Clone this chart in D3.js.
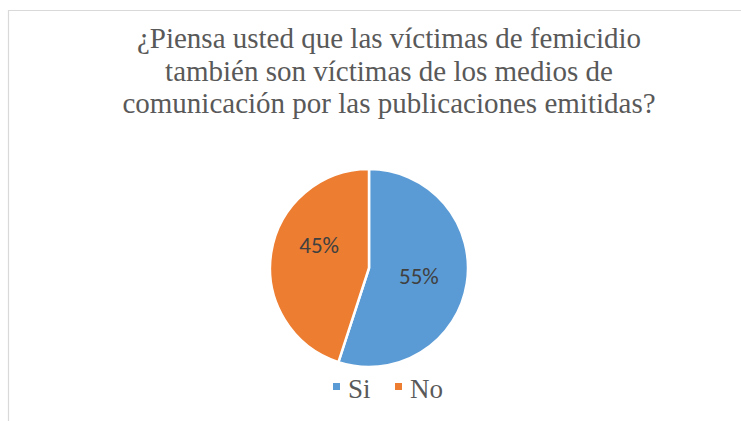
<!DOCTYPE html>
<html>
<head>
<meta charset="utf-8">
<script src="https://cdn.jsdelivr.net/npm/d3@7"></script>
<style>
  body { margin: 0; background: #fff; }
  svg { display: block; }
</style>
</head>
<body>
<div id="container"></div>
<script>
// Data
const categories = ["Si", "No"];
const values = [55, 45];
const colors = ["#5B9BD5", "#ED7D31"];
const titleLines = [
    "¿Piensa usted que las víctimas de femicidio",
    "también son víctimas de los medios de",
    "comunicación por las publicaciones emitidas?"
];

const width = 741, height = 421;
const cx = 369, cy = 268, radius = 99;
const serif = "Liberation Serif";

const svg = d3.select("#container").append("svg")
    .attr("width", width)
    .attr("height", height);

// Chart border (only top and left edges are in frame)
svg.append("path")
    .attr("d", `M8.5,${height} L8.5,10.5 L${width},10.5`)
    .attr("fill", "none")
    .attr("stroke", "#d9d9d9")
    .attr("stroke-width", 1.2);

// Title
svg.append("text")
    .attr("text-anchor", "middle")
    .attr("font-family", serif)
    .attr("font-size", 29)
    .attr("fill", "#595959")
    .selectAll("tspan")
    .data(titleLines)
    .enter().append("tspan")
    .attr("x", 389)
    .attr("y", (d, i) => 48 + i * 32.5)
    .text(d => d);

// Pie
const data = categories.map((c, i) => ({ name: c, value: values[i] }));
const pie = d3.pie().value(d => d.value).sort(null);
const arc = d3.arc().innerRadius(0).outerRadius(radius);
const labelArc = d3.arc().innerRadius(radius * 0.51).outerRadius(radius * 0.51);
// Excel "best fit" nudges the smaller label upward
const labelShift = [0, -15];

const g = svg.append("g").attr("transform", `translate(${cx},${cy})`);

g.selectAll("path")
    .data(pie(data))
    .enter().append("path")
    .attr("d", arc)
    .attr("fill", (d, i) => colors[i])
    .attr("stroke", "#fff")
    .attr("stroke-width", 2.5)
    .attr("stroke-linejoin", "round");

g.selectAll(".label")
    .data(pie(data))
    .enter().append("text")
    .attr("class", "label")
    .attr("transform", (d, i) => {
        const [x, y] = labelArc.centroid(d);
        return `translate(${x},${y + labelShift[i]})`;
    })
    .attr("text-anchor", "middle")
    .attr("dy", "0.35em")
    .attr("font-family", "Carlito")
    .attr("font-size", 23)
    .attr("fill", "#404040")
    .text(d => d.data.value + "%");

// Legend
const legendX = [333, 395];
const legend = svg.selectAll(".legend")
    .data(categories)
    .enter().append("g")
    .attr("class", "legend")
    .attr("transform", (d, i) => `translate(${legendX[i]},383)`);

legend.append("rect")
    .attr("width", 7)
    .attr("height", 7)
    .attr("fill", (d, i) => colors[i]);

legend.append("text")
    .attr("x", 15)
    .attr("y", 14.5)
    .attr("font-family", serif)
    .attr("font-size", 27)
    .attr("fill", "#595959")
    .text(d => d);
</script>
</body>
</html>
